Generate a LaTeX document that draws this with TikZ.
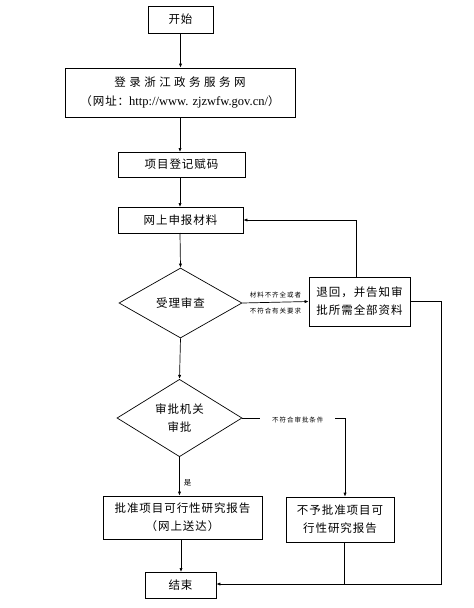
\documentclass[tikz,border=0pt]{standalone}
\usepackage{fontspec}
\usetikzlibrary{shapes.geometric,arrows.meta}
\newfontfamily\cjk[LetterSpace=8]{Noto Sans CJK SC}
\newfontfamily\cjkw[LetterSpace=30]{Noto Sans CJK SC}
\newfontfamily\cjkl[LetterSpace=15]{Noto Sans CJK SC}
\newfontfamily\lat{Liberation Serif}
\begin{document}
\begin{tikzpicture}[x=1pt,y=-1pt,
  every node/.style={inner sep=0pt},
  box/.style={draw, line width=0.7pt, font=\fontsize{11.5}{14}\cjk, align=center},
  dec/.style={draw, diamond, line width=0.7pt, font=\fontsize{11.5}{14}\cjk, align=center, inner sep=0pt},
  lab/.style={font=\fontsize{6.5}{7.5}\cjkl},
  conn/.style={line width=0.7pt},
  arr/.style={conn, -{Latex[length=4pt,width=3.2pt]}}]
\useasboundingbox[fill=white] (0,0) rectangle (474,608);
\node[box, minimum width=65pt, minimum height=27pt] (start) at (180.5,19.5) {开始};
\node[box, minimum width=230pt, minimum height=49pt] (login) at (180,92.5)
  {{\cjkw 登录浙江政务服务网}\\[5pt]{\cjk （网址：}{\fontsize{12.5}{14}\lat http://www. zjzwfw.gov.cn/}{\cjk ）}};
\node[box, minimum width=127pt, minimum height=25pt] (code) at (181.5,164.5) {项目登记赋码};
\node[box, minimum width=125pt, minimum height=26pt] (submit) at (180.5,220) {网上申报材料};
\node[dec, minimum width=123pt, minimum height=70pt] (d1) at (180.5,303) {受理审查};
\node[box, minimum width=101pt, minimum height=49pt] (ret) at (359.5,301.5) {退回，并告知审\\[4pt]批所需全部资料};
\node[dec, minimum width=125pt, minimum height=72pt] (d2) at (179.5,418) {审批机关\\[4pt]审批};
\node[box, minimum width=159pt, minimum height=43pt] (appr) at (182.5,517.5) {批准项目可行性研究报告\\[4pt]（网上送达）};
\node[box, minimum width=108pt, minimum height=45pt] (rej) at (340,519.5) {不予批准项目可\\[4pt]行性研究报告};
\node[box, minimum width=71pt, minimum height=26pt] (end) at (180.5,585) {结束};
\coordinate (rc) at (441,584);
\draw[arr] (start.south) -- (start.south |- login.north);
\draw[arr] (180,117) -- (180,152);
\draw[arr] (180,177) -- (180,207);
\draw[arr] (180,233) -- (d1.north);
\draw[arr] (d1.south) -- (d2.north);
\draw[arr] (d1.east) -- (ret.west)
  node[lab, midway, above=4pt] {材料不齐全或者}
  node[lab, midway, below=5pt] {不符合有关要求};
\draw[arr] ([xshift=-3pt]ret.north) |- (submit.east);
\draw[arr] (ret.east) -| (rc) -- (rc -| end.east);
\draw[arr] (d2.east) -| ([xshift=5pt]rej.north)
  node[lab, pos=0.27, fill=white, inner xsep=12pt, inner ysep=2pt, yshift=-2pt] {不符合审批条件};
\draw[arr] (d2.south) -- (d2.south |- appr.north)
  node[pos=0.68, right=4pt, font=\fontsize{7.5}{8}\cjk] {是};
\draw[conn] ([xshift=4pt]rej.south) -- ([xshift=4pt]rej.south |- rc);
\draw[arr] (181,539) -- (181,572);
\end{tikzpicture}
\end{document}
